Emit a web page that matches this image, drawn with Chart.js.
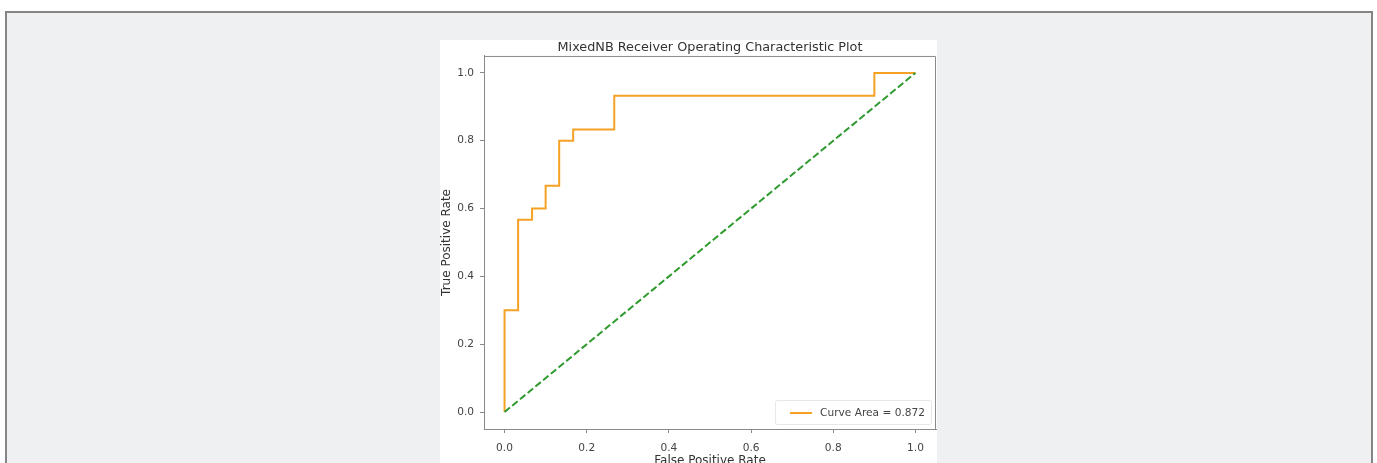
<!DOCTYPE html>
<html>
<head>
<meta charset="utf-8">
<title>MixedNB ROC</title>
<script src="https://cdn.jsdelivr.net/npm/chart.js@4.4.1/dist/chart.umd.min.js"></script>
<style>
  html, body { margin: 0; padding: 0; background: #ffffff; width: 1377px; height: 463px; overflow: hidden; }
  #frame {
    position: absolute; left: 5px; top: 11px; width: 1364px; height: 470px;
    background: #eff0f2; border: 2px solid #858585; border-bottom: none;
  }
  #panel {
    position: absolute; left: 440px; top: 40px; width: 497px; height: 428px;
    background: #ffffff;
  }
  #panel canvas { display: block; }
</style>
</head>
<body>
<div id="frame"></div>
<div id="panel"><canvas id="roc" width="497" height="428"></canvas></div>
<script>
// ROC curve of the MixedNB classifier (false / true positive rates)
const fpr = [0.0, 0.0, 0.033, 0.033, 0.067, 0.067, 0.1, 0.1, 0.133, 0.133, 0.167, 0.167, 0.267, 0.267, 0.9, 0.9, 1.0];
const tpr = [0.0, 0.3, 0.3, 0.567, 0.567, 0.6, 0.6, 0.667, 0.667, 0.8, 0.8, 0.833, 0.833, 0.933, 0.933, 1.0, 1.0];
// chance diagonal
const chanceX = [0.0, 1.0];
const chanceY = [0.0, 1.0];
const curveArea = 0.872;
const xTicks = [0.0, 0.2, 0.4, 0.6, 0.8, 1.0];
const yTicks = [0.0, 0.2, 0.4, 0.6, 0.8, 1.0];

const FONT = 'DejaVu Sans';
const SPINE = '#8a8a8a';
const TEXT = '#444444';

const toPoints = (xs, ys) => xs.map((x, i) => ({ x: x, y: ys[i] }));

// closes the axes box (top + right spines)
const boxPlugin = {
  id: 'box',
  afterDatasetsDraw(chart) {
    const { ctx, chartArea: a } = chart;
    ctx.save();
    ctx.strokeStyle = SPINE;
    ctx.lineWidth = 1;
    ctx.beginPath();
    ctx.moveTo(a.left, a.top + 0.5);
    ctx.lineTo(a.right - 0.5, a.top + 0.5);
    ctx.lineTo(a.right - 0.5, a.bottom);
    ctx.stroke();
    ctx.restore();
  }
};

// lower-right legend in the style of the plot
const cornerLegend = {
  id: 'cornerLegend',
  afterDraw(chart) {
    const { ctx, chartArea: a } = chart;
    const ds = chart.data.datasets[0];
    ctx.save();
    ctx.font = '10.6px "' + FONT + '"';
    const tw = ctx.measureText(ds.label).width;
    const w = 15 + 22 + 8 + tw + 6;
    const h = 24;
    const x = a.right - 5 - w;
    const y = a.bottom - 5 - h;
    ctx.fillStyle = 'rgba(255,255,255,0.8)';
    ctx.strokeStyle = 'rgba(225,225,225,0.8)';
    ctx.lineWidth = 1;
    ctx.beginPath();
    ctx.roundRect(x + 0.5, y + 0.5, w, h, 2);
    ctx.fill();
    ctx.stroke();
    ctx.strokeStyle = ds.borderColor;
    ctx.lineWidth = 2;
    ctx.beginPath();
    ctx.moveTo(x + 15, y + 13);
    ctx.lineTo(x + 37, y + 13);
    ctx.stroke();
    ctx.fillStyle = TEXT;
    ctx.textBaseline = 'middle';
    ctx.fillText(ds.label, x + 45, y + 13);
    ctx.restore();
  }
};

const fmt = v => Number(v).toFixed(1);

new Chart(document.getElementById('roc'), {
  type: 'scatter',
  data: {
    datasets: [
      {
        label: 'Curve Area = ' + curveArea.toFixed(3),
        data: toPoints(fpr, tpr),
        showLine: true,
        borderColor: '#f4a126',
        borderWidth: 2,
        pointRadius: 0,
        tension: 0,
        order: 1
      },
      {
        label: 'chance',
        data: toPoints(chanceX, chanceY),
        showLine: true,
        borderColor: '#2f9a2f',
        borderWidth: 2,
        borderDash: [7, 3],
        pointRadius: 0,
        order: 0
      }
    ]
  },
  options: {
    responsive: false,
    animation: false,
    layout: { padding: { left: 0, right: 1, top: 0, bottom: 0 } },
    plugins: {
      legend: { display: false },
      tooltip: { enabled: false },
      title: {
        display: true,
        fullSize: false,
        text: 'MixedNB Receiver Operating Characteristic Plot',
        color: '#333333',
        font: { family: FONT, size: 12.8, weight: 'normal' },
        lineHeight: 1.2,
        padding: { top: 0, bottom: 0.6 }
      }
    },
    scales: {
      x: {
        type: 'linear',
        min: -0.05,
        max: 1.05,
        afterBuildTicks: s => { s.ticks = xTicks.map(v => ({ value: v })); },
        afterFit: s => { s.height = 39; },
        grid: { drawOnChartArea: false, drawTicks: true, tickLength: 4, color: SPINE },
        border: { display: true, color: SPINE, width: 1 },
        ticks: { color: TEXT, font: { family: FONT, size: 10.6 }, padding: 9, maxRotation: 0, callback: fmt },
        title: {
          display: true,
          text: 'False Positive Rate',
          color: '#333333',
          font: { family: FONT, size: 12 },
          padding: { top: 0, bottom: 0 }
        }
      },
      y: {
        type: 'linear',
        min: -0.05,
        max: 1.05,
        afterBuildTicks: s => { s.ticks = yTicks.map(v => ({ value: v })); },
        afterFit: s => { s.width = 44; },
        grid: { drawOnChartArea: false, drawTicks: true, tickLength: 4, color: SPINE },
        border: { display: true, color: SPINE, width: 1 },
        ticks: { color: TEXT, font: { family: FONT, size: 10.6 }, padding: 6, callback: fmt },
        title: {
          display: true,
          text: 'True Positive Rate',
          color: '#333333',
          font: { family: FONT, size: 12 },
          padding: { top: 0, bottom: 0 }
        }
      }
    }
  },
  plugins: [boxPlugin, cornerLegend]
});
</script>
</body>
</html>
